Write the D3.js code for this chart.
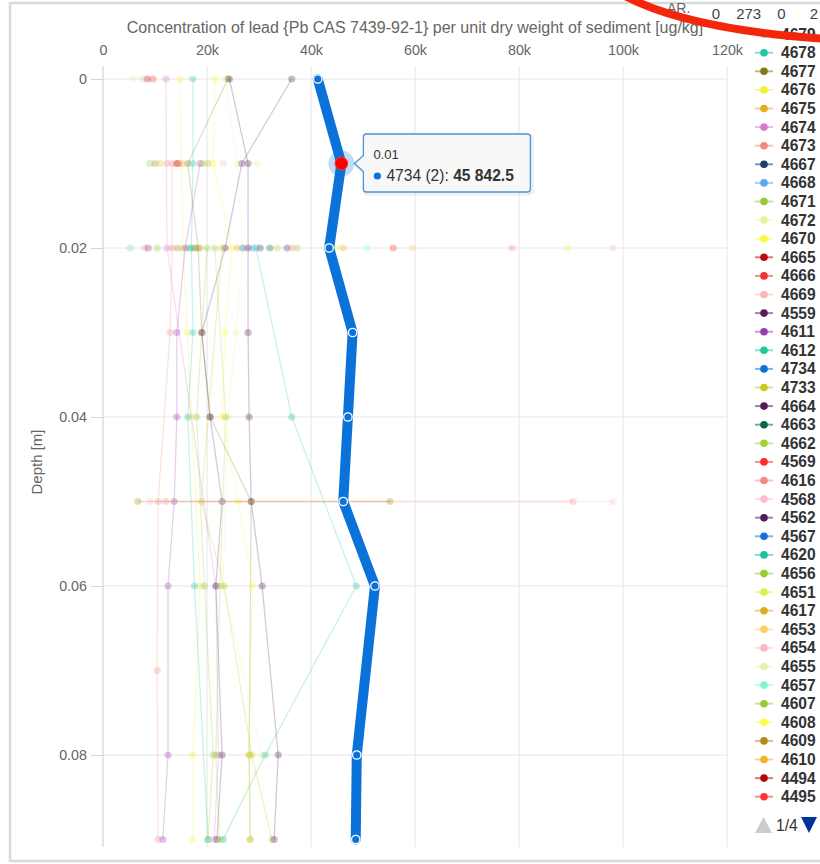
<!DOCTYPE html>
<html>
<head>
<meta charset="utf-8">
<script src="https://cdn.jsdelivr.net/npm/d3@7/dist/d3.min.js"></script>
<style>
  html, body { margin: 0; padding: 0; background: #ffffff; }
  svg { display: block; font-family: "Liberation Sans", Arial, Helvetica, sans-serif; }
</style>
</head>
<body>
<svg id="chart" width="820" height="864"></svg>
<script>
// ---- axis ticks -------------------------------------------------------
const depthTicks = [0, 0.02, 0.04, 0.06, 0.08];
const valueTicks = [0, 20000, 40000, 60000, 80000, 100000, 120000];
const valueTickLabels = ["0", "20k", "40k", "60k", "80k", "100k", "120k"];

// ---- legend (page 1 of 4) -------------------------------------------------
const legendNames = ["4679","4678","4677","4676","4675","4674","4673","4667","4668","4671",
  "4672","4670","4665","4666","4669","4559","4611","4612","4734","4733","4664","4663","4662",
  "4569","4616","4568","4562","4567","4620","4656","4651","4617","4653","4654","4655","4657",
  "4607","4608","4609","4610","4494","4495"];
const legendColors = ["#6fd3c3","#1dc8a0","#7d7d15","#f2f23a","#e5ac1c","#d37ad3","#f28a80",
  "#1c3f6e","#5aaaf0","#98c832","#e4f59c","#fafa3c","#c00a0a","#f2322a","#f9b8b8","#5b1c5e",
  "#9a3cae","#22c89c","#0b72d9","#c9c922","#521a56","#0b6646","#a3d236","#ff2a2a","#f58a82",
  "#fbbccb","#4f1c5a","#1a70dc","#1cc39c","#98cc30","#d5f542","#e2aa22","#fdd062","#fdb8c4",
  "#e2f6a4","#80f5d6","#99cc33","#fcfc44","#b08a16","#f0b424","#b00a0a","#ff3232"];

// ---- samples per series: [depth m, Pb ug/kg] --------------------------------
const series4734 = [[0,41300],[0.01,45842.5],[0.02,43500],[0.03,48000],[0.04,47100],[0.05,46200],[0.06,52300],[0.08,48800],[0.09,48600]];
const series4673 = [[0.01,13300],[0.02,13300],[0.03,12900],[0.05,10600],[0.07,10400],[0.09,10600]];
const series4611 = [[0.01,18700],[0.02,15800],[0.03,14200],[0.04,14200],[0.05,13700],[0.06,12500],[0.08,12500],[0.09,11500]];
const series4612 = [[0,17300],[0.01,17300],[0.02,17000],[0.03,17300],[0.04,16300],[0.06,17600],[0.09,20200]];
const series4620 = [[0.02,29400],[0.04,36300],[0.06,48700],[0.08,31200],[0.09,23100]];
const series4559 = [[0,36300],[0.01,26700],[0.02,23500],[0.03,19000],[0.04,20600],[0.05,22900],[0.06,21700],[0.08,22900],[0.09,21900]];
const series4664 = [[0,24300],[0.01,27900],[0.02,27900],[0.03,27900],[0.04,28100],[0.05,28500],[0.06,30600],[0.08,33700],[0.09,32900]];
const series4676 = [[0,14800],[0.02,15400],[0.03,16200],[0.04,17000],[0.06,18700],[0.08,17300],[0.09,17300]];
const series4670 = [[0,21500],[0.01,21200],[0.02,24800],[0.03,23500],[0.04,22900],[0.05,26000],[0.06,28800],[0.08,28100],[0.09,28300]];
const series4672 = [[0,23500],[0.01,25800],[0.02,26900],[0.03,25600],[0.04,24000],[0.06,23100],[0.08,30600],[0.09,23100]];
const series4677 = [[0,24000],[0.01,16300],[0.02,18300],[0.03,19000],[0.04,20600],[0.05,28500],[0.08,28100],[0.09,28300]];
const series4671 = [[0.02,20000],[0.04,18000],[0.06,19500],[0.08,21200],[0.09,20200]];
const series4662 = [[0.02,21500],[0.04,23600],[0.06,22500],[0.08,21700],[0.09,22400]];
const series4674 = [[0,12100],[0.02,12300],[0.06,21700],[0.08,22200],[0.09,21400]];
const series4733 = [[0.02,22900],[0.05,18900],[0.06,23300],[0.08,28600],[0.09,32500]];
const series4609 = [[0.05,6700],[0.05,55200]];
const series4568 = [[0.05,9000],[0.05,98100]];
const series4616 = [[0.05,12000],[0.05,90400]];
const series4562 = [[0.02,30200]];
const series4679 = [[0.02,5200]];
const series4678 = [[0.02,16700]];
const series4675 = [[0.02,25800]];
const series4667 = [[0.02,35400]];
const series4668 = [[0.02,28800]];
const series4665 = [[0.01,14200]];
const series4666 = [[0.01,14500]];
const series4669 = [[0.02,98100]];
const series4663 = [[0.02,32100]];
const series4569 = [[0.02,55800]];
const series4567 = [[0.02,26900]];
const series4656 = [[0.01,19200]];
const series4651 = [[0.02,89400]];
const series4617 = [[0.01,20200]];
const series4653 = [[0.02,59600]];
const series4654 = [[0.01,23100]];
const series4655 = [[0.01,29600]];
const series4657 = [[0.02,50800]];
const series4607 = [[0.02,37300]];
const series4608 = [[0.02,45000]];
const series4610 = [[0.02,46200]];
const series4494 = [[0,8500]];
const series4495 = [[0,9600]];

// single-sample series listed on the later legend pages: [depth, value, colour]
const otherPageSamples = [
  [0,5800,"#e4f59c"],[0,7700,"#f9b8b8"],
  [0.01,9000,"#98c832"],[0.01,10000,"#b08a16"],[0.01,11000,"#c9c922"],[0.01,12300,"#f28a80"],[0.01,15200,"#e2aa22"],
  [0.02,8100,"#f28a80"],[0.02,8700,"#9a3cae"],[0.02,10400,"#98c832"],[0.02,14400,"#b08a16"],[0.02,17700,"#7d7d15"],
  [0.02,18700,"#e2aa22"],[0.02,33500,"#c9c922"],[0.02,36300,"#f28a80"],[0.02,78700,"#f58a82"]
];

const seriesData = {
  "4734":series4734,"4673":series4673,"4611":series4611,"4612":series4612,"4620":series4620,
  "4559":series4559,"4664":series4664,"4676":series4676,"4670":series4670,"4672":series4672,
  "4677":series4677,"4671":series4671,"4662":series4662,"4674":series4674,"4733":series4733,
  "4609":series4609,"4568":series4568,"4562":series4562,"4679":series4679,"4678":series4678,
  "4675":series4675,"4667":series4667,"4668":series4668,"4665":series4665,"4666":series4666,
  "4669":series4669,"4663":series4663,"4569":series4569,"4616":series4616,"4567":series4567,
  "4656":series4656,"4651":series4651,"4617":series4617,"4653":series4653,"4654":series4654,
  "4655":series4655,"4657":series4657,"4607":series4607,"4608":series4608,"4610":series4610,
  "4494":series4494,"4495":series4495
};

// hovered point and its tooltip
const activeSeries = "4734";
const activePoint = [0.01, 45842.5];
const tooltipHeader = "0.01";
const tooltipName = "4734 (2): ";
const tooltipValue = "45 842.5";

// texts above the legend
const cornerTitle = "AR.";
const cornerLabels = ["0", "273", "0", "2"];
const legendPage = "1/4";

const titleText = "Concentration of lead {Pb CAS 7439-92-1} per unit dry weight of sediment [ug/kg]";
const depthTitle = "Depth [m]";

// ---- drawing ---------------------------------------------------------------
const svg = d3.select("#chart");
const plot = { left: 103, right: 727, top: 66, bottom: 847 };

const x = d3.scaleLinear().domain([0, 120000]).range([plot.left, plot.right]);
const y = d3.scaleLinear().domain([0, 0.09]).range([79, 839.5]);
const colorOf = d3.scaleOrdinal().domain(legendNames).range(legendColors);

// outer chart frame
svg.append("path")
  .attr("d", `M840,3 H10 V861 H840`)
  .attr("fill", "none").attr("stroke", "#d9d9d9").attr("stroke-width", 2.5);

// grid
const grid = svg.append("g");
grid.selectAll("line.v").data(valueTicks).join("line")
  .attr("x1", d => x(d)).attr("x2", d => x(d))
  .attr("y1", plot.top).attr("y2", plot.bottom)
  .attr("stroke", "#e6e6e6").attr("stroke-width", 1);
grid.selectAll("line.h").data(depthTicks).join("line")
  .attr("x1", plot.left).attr("x2", plot.right)
  .attr("y1", d => y(d)).attr("y2", d => y(d))
  .attr("stroke", "#e6e6e6").attr("stroke-width", 1);

// depth axis (left)
const yAxis = svg.append("g").attr("transform", `translate(${plot.left},0)`)
  .call(d3.axisLeft(y).tickValues(depthTicks).tickFormat(d => d === 0 ? "0" : d3.format(".2f")(d))
    .tickSize(12).tickSizeOuter(0).tickPadding(4));
yAxis.select(".domain").remove();
yAxis.selectAll(".tick line").attr("stroke", "#ccd6eb");
yAxis.selectAll(".tick text").attr("fill", "#666666").attr("font-size", 14.3)
  .attr("font-family", "'Liberation Sans', Arial, sans-serif");
svg.append("line").attr("x1", plot.left).attr("x2", plot.left)
  .attr("y1", plot.top).attr("y2", plot.bottom).attr("stroke", "#ccd6eb");

// value axis (top)
const xAxis = svg.append("g").attr("transform", `translate(0,55)`)
  .call(d3.axisTop(x).tickValues(valueTicks).tickFormat((d, i) => valueTickLabels[i])
    .tickSize(0).tickPadding(0));
xAxis.select(".domain").remove();
xAxis.selectAll(".tick text").attr("fill", "#666666").attr("font-size", 14.3)
  .attr("font-family", "'Liberation Sans', Arial, sans-serif");

// axis titles
svg.append("text").attr("x", (plot.left + plot.right) / 2).attr("y", 33)
  .attr("text-anchor", "middle").attr("fill", "#666666").attr("font-size", 16)
  .text(titleText);
svg.append("text").attr("transform", `translate(42,462) rotate(-90)`)
  .attr("text-anchor", "middle").attr("fill", "#666666").attr("font-size", 15)
  .text(depthTitle);

// faded (inactive) series
const line = d3.line().x(d => x(d[1])).y(d => y(d[0]));
const faded = svg.append("g");
legendNames.filter(n => n !== activeSeries && seriesData[n]).forEach(name => {
  const pts = seriesData[name];
  const g = faded.append("g");
  if (pts.length > 1) {
    g.append("path").attr("d", line(pts)).attr("fill", "none")
      .attr("stroke", colorOf(name)).attr("stroke-width", 1.3).attr("stroke-opacity", 0.24);
  }
  g.selectAll("circle").data(pts).join("circle")
    .attr("cx", d => x(d[1])).attr("cy", d => y(d[0])).attr("r", 3.6)
    .attr("fill", colorOf(name)).attr("fill-opacity", 0.3);
});
faded.append("g").selectAll("circle").data(otherPageSamples).join("circle")
  .attr("cx", d => x(d[1])).attr("cy", d => y(d[0])).attr("r", 3.6)
  .attr("fill", d => d[2]).attr("fill-opacity", 0.3);

// active series
const activeColor = colorOf(activeSeries);
const act = svg.append("g");
act.append("path").attr("d", line(seriesData[activeSeries])).attr("fill", "none")
  .attr("stroke", activeColor).attr("stroke-width", 10)
  .attr("stroke-linejoin", "round").attr("stroke-linecap", "round");
act.selectAll("circle").data(seriesData[activeSeries].filter(d => d[0] !== activePoint[0])).join("circle")
  .attr("cx", d => x(d[1])).attr("cy", d => y(d[0])).attr("r", 4.2)
  .attr("fill", activeColor).attr("stroke", "#ffffff").attr("stroke-width", 1.3);

// hover halo + point
const hx = x(activePoint[1]), hy = y(activePoint[0]);
act.append("circle").attr("cx", hx).attr("cy", hy).attr("r", 13)
  .attr("fill", activeColor).attr("fill-opacity", 0.25);
act.append("circle").attr("cx", hx).attr("cy", hy).attr("r", 6.4)
  .attr("fill", "#ff0000").attr("stroke", "#ff3b3b").attr("stroke-width", 0.8);

// tooltip
const tip = svg.append("g");
const tipL = hx + 22, tipT = 134, tipW = 167, tipH = 58;
const tipPath = `M${tipL + 3},${tipT} H${tipL + tipW - 3} Q${tipL + tipW},${tipT} ${tipL + tipW},${tipT + 3}
  V${tipT + tipH - 3} Q${tipL + tipW},${tipT + tipH} ${tipL + tipW - 3},${tipT + tipH}
  H${tipL + 3} Q${tipL},${tipT + tipH} ${tipL},${tipT + tipH - 3}
  V${hy + 8} L${hx + 13},${hy} L${tipL},${hy - 8} V${tipT + 3} Q${tipL},${tipT} ${tipL + 3},${tipT} Z`;
tip.append("path").attr("d", tipPath).attr("transform", "translate(1.5,1.5)")
  .attr("fill", "none").attr("stroke", "#000").attr("stroke-opacity", 0.06).attr("stroke-width", 4);
tip.append("path").attr("d", tipPath)
  .attr("fill", "#f7f7f7").attr("fill-opacity", 0.92)
  .attr("stroke", "#4a94e0").attr("stroke-width", 1.3);
tip.append("text").attr("x", tipL + 10).attr("y", tipT + 25)
  .attr("font-size", 13).attr("fill", "#333333").text(tooltipHeader);
tip.append("circle").attr("cx", tipL + 14).attr("cy", tipT + 42).attr("r", 3.6).attr("fill", activeColor);
const body = tip.append("text").attr("x", tipL + 23).attr("y", tipT + 47)
  .attr("font-size", 15.6).attr("fill", "#333333");
body.append("tspan").text(tooltipName);
body.append("tspan").attr("font-weight", "bold").text(tooltipValue);

// legend
const legend = svg.append("g");
const legendY = d3.scaleLinear().domain([0, 1]).range([34.1, 52.7]);
const item = legend.selectAll("g").data(legendNames).join("g")
  .attr("transform", (d, i) => `translate(0,${legendY(i)})`);
item.append("line").attr("x1", 755).attr("x2", 773).attr("y1", 0).attr("y2", 0)
  .attr("stroke", d => colorOf(d)).attr("stroke-opacity", 0.55).attr("stroke-width", 2);
item.append("circle").attr("cx", 764).attr("cy", 0).attr("r", 3.8).attr("fill", d => colorOf(d));
item.append("text").attr("x", 781).attr("y", 5.5)
  .attr("font-size", 15.6).attr("font-weight", "bold").attr("fill", "#333333").text(d => d);

// legend navigation
const nav = svg.append("g").attr("transform", "translate(0,825)");
nav.append("path").attr("d", "M755,8 L763.5,-8 L772,8 Z").attr("fill", "#cccccc");
nav.append("text").attr("x", 776).attr("y", 5.5).attr("font-size", 15.6)
  .attr("fill", "#333333").text(legendPage);
nav.append("path").attr("d", "M801,-8 L817,-8 L809,8 Z").attr("fill", "#003399");

// labels above the legend
svg.append("text").attr("x", 667).attr("y", 13).attr("font-size", 14)
  .attr("fill", "#666666").text(cornerTitle);
const cornerX = d3.scalePoint().domain(d3.range(cornerLabels.length)).range([716, 814]);
svg.append("g").selectAll("text").data(cornerLabels).join("text")
  .attr("x", (d, i) => cornerX(i)).attr("y", 19).attr("text-anchor", "middle")
  .attr("font-size", 15).attr("fill", "#444444").text(d => d);

// red marker stroke across the top right corner
svg.append("path").attr("d", "M625,-4 Q690,30 828,39")
  .attr("fill", "none").attr("stroke", "#f3260c").attr("stroke-width", 8)
  .attr("stroke-linecap", "round");
</script>
</body>
</html>
